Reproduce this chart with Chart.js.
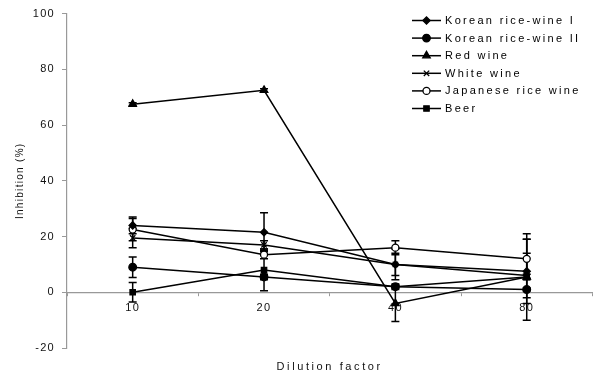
<!DOCTYPE html>
<html>
<head>
<meta charset="utf-8">
<script src="https://cdn.jsdelivr.net/npm/chart.js@4/dist/chart.umd.min.js"></script>
<style>
  html, body { margin: 0; padding: 0; background: #fff; }
  #wrap { width: 598px; height: 373px; }
</style>
</head>
<body>
<div id="wrap"><canvas id="c" width="598" height="373"></canvas></div>
<script>
// Dilution factors (x categories)
const dilutions = ['10', '20', '40', '80'];

// Inhibition (%) per sample, one value per dilution
const koreanRiceWine1 = [24, 21.5, 10, 7.5];
const koreanRiceWine2 = [9, 5.5, 2, 1];
const redWine = [67.5, 72.5, -4, 5.5];
const whiteWine = [19.5, 17, 10, 6];
const japaneseRiceWine = [22.5, 13.5, 16, 12];
const beer = [0, 8, 2, 5.5];

// Standard deviations (error bars)
const koreanRiceWine1Err = [3, 7, 4, 11.5];
const koreanRiceWine2Err = [3.7, 1, 0.5, 0.5];
const redWineErr = [0.5, 0.5, 6.5, 15.5];
const whiteWineErr = [3.5, 1.5, 5.5, 8];
const japaneseRiceWineErr = [4, 1.5, 2.5, 7];
const beerErr = [3.5, 7.5, 1, 1];

const yTicks = [-20, 0, 20, 40, 60, 80, 100];
const xTitle = 'Dilution factor';

const FONT = '"Liberation Sans", Arial, sans-serif';

function series(label, data, err, style, radius, bg) {
  return {
    label, data, err,
    borderColor: '#000', borderWidth: 1.5,
    pointStyle: style, pointRadius: radius, pointHoverRadius: radius,
    pointBackgroundColor: bg, pointBorderColor: '#000', pointBorderWidth: 1.3,
    tension: 0, fill: false
  };
}

const datasets = [
  series('Korean rice-wine I', koreanRiceWine1, koreanRiceWine1Err, 'rectRot', 3.6, '#000'),
  series('Korean rice-wine II', koreanRiceWine2, koreanRiceWine2Err, 'circle', 3.8, '#000'),
  series('Red wine', redWine, redWineErr, 'triangle', 4.3, '#000'),
  series('White wine', whiteWine, whiteWineErr, 'crossRot', 3.8, '#000'),
  series('Japanese rice wine', japaneseRiceWine, japaneseRiceWineErr, 'circle', 3.5, '#fff'),
  series('Beer', beer, beerErr, 'rect', 3.8, '#000')
];

function drawMarker(ctx, ds, cx, cy) {
  ctx.save();
  ctx.fillStyle = ds.pointBackgroundColor;
  ctx.strokeStyle = '#000';
  ctx.lineWidth = 1.3;
  Chart.helpers.drawPoint(ctx, { pointStyle: ds.pointStyle, radius: ds.pointRadius, borderWidth: 1.3, rotation: 0 }, cx, cy);
  ctx.restore();
}

// Error bars with caps, drawn beneath the markers
const errorBars = {
  id: 'errorBars',
  beforeDatasetsDraw(chart) {
    const { ctx, scales: { x, y } } = chart;
    ctx.save();
    ctx.strokeStyle = '#000';
    ctx.lineWidth = 1.5;
    chart.data.datasets.forEach((ds) => {
      ds.data.forEach((v, i) => {
        const e = ds.err[i];
        const px = x.getPixelForValue(i);
        const top = y.getPixelForValue(v + e);
        const bot = y.getPixelForValue(v - e);
        ctx.beginPath();
        ctx.moveTo(px, top); ctx.lineTo(px, bot);
        ctx.moveTo(px - 4, top); ctx.lineTo(px + 4, top);
        ctx.moveTo(px - 4, bot); ctx.lineTo(px + 4, bot);
        ctx.stroke();
      });
    });
    ctx.restore();
  }
};

// Legend drawn inside the plot, top right; x-axis title at the bottom
const annotations = {
  id: 'annotations',
  afterDraw(chart) {
    const ctx = chart.ctx;
    ctx.save();
    const x0 = 412, lineLen = 29, y0 = 20.5, step = 17.6;
    chart.data.datasets.forEach((ds, i) => {
      const yy = y0 + i * step;
      ctx.strokeStyle = '#000';
      ctx.lineWidth = 1.5;
      ctx.beginPath();
      ctx.moveTo(x0, yy); ctx.lineTo(x0 + lineLen, yy);
      ctx.stroke();
      drawMarker(ctx, ds, x0 + lineLen / 2, yy);
      ctx.fillStyle = '#000';
      ctx.letterSpacing = '2.3px';
      ctx.font = '11px ' + FONT;
      ctx.textBaseline = 'middle';
      ctx.textAlign = 'left';
      ctx.fillText(ds.label, x0 + lineLen + 4, yy + 0.5);
    });
    const area = chart.chartArea;
    ctx.letterSpacing = '2.6px';
    ctx.font = '11px ' + FONT;
    ctx.fillStyle = '#111';
    ctx.textAlign = 'center';
    ctx.textBaseline = 'middle';
    ctx.fillText(xTitle, (area.left + area.right) / 2, 367);
    ctx.restore();
  }
};

// Wide letter spacing for tick text
const spacing = {
  id: 'spacing',
  beforeDraw(chart) { chart.ctx.letterSpacing = '1.3px'; }
};

new Chart(document.getElementById('c'), {
  type: 'line',
  data: { labels: dilutions, datasets },
  plugins: [errorBars, annotations, spacing],
  options: {
    responsive: false,
    animation: false,
    events: [],
    layout: { padding: { top: 10, right: 1, bottom: 25, left: 0 } },
    plugins: {
      legend: { display: false },
      tooltip: { enabled: false },
      title: { display: false }
    },
    scales: {
      x: {
        type: 'category',
        position: { y: 0 },
        offset: true,
        border: { color: '#999', width: 1.2 },
        grid: { display: true, drawOnChartArea: false, drawTicks: true, tickLength: 3, color: '#999', offset: true },
        ticks: { color: '#111', font: { family: FONT, size: 11 }, padding: 6 }
      },
      y: {
        min: -20, max: 100,
        border: { color: '#999', width: 1.2 },
        grid: { display: true, drawOnChartArea: false, drawTicks: true, tickLength: 5, color: '#999' },
        afterBuildTicks(scale) { scale.ticks = yTicks.map(v => ({ value: v })); },
        afterFit(scale) { scale.width = 67; },
        ticks: { color: '#111', font: { family: FONT, size: 11 }, padding: 7 },
        title: { display: true, text: 'Inhibition (%)', color: '#111', font: { family: FONT, size: 10 }, padding: { top: 14, bottom: 0 } }
      }
    }
  }
});
</script>
</body>
</html>
